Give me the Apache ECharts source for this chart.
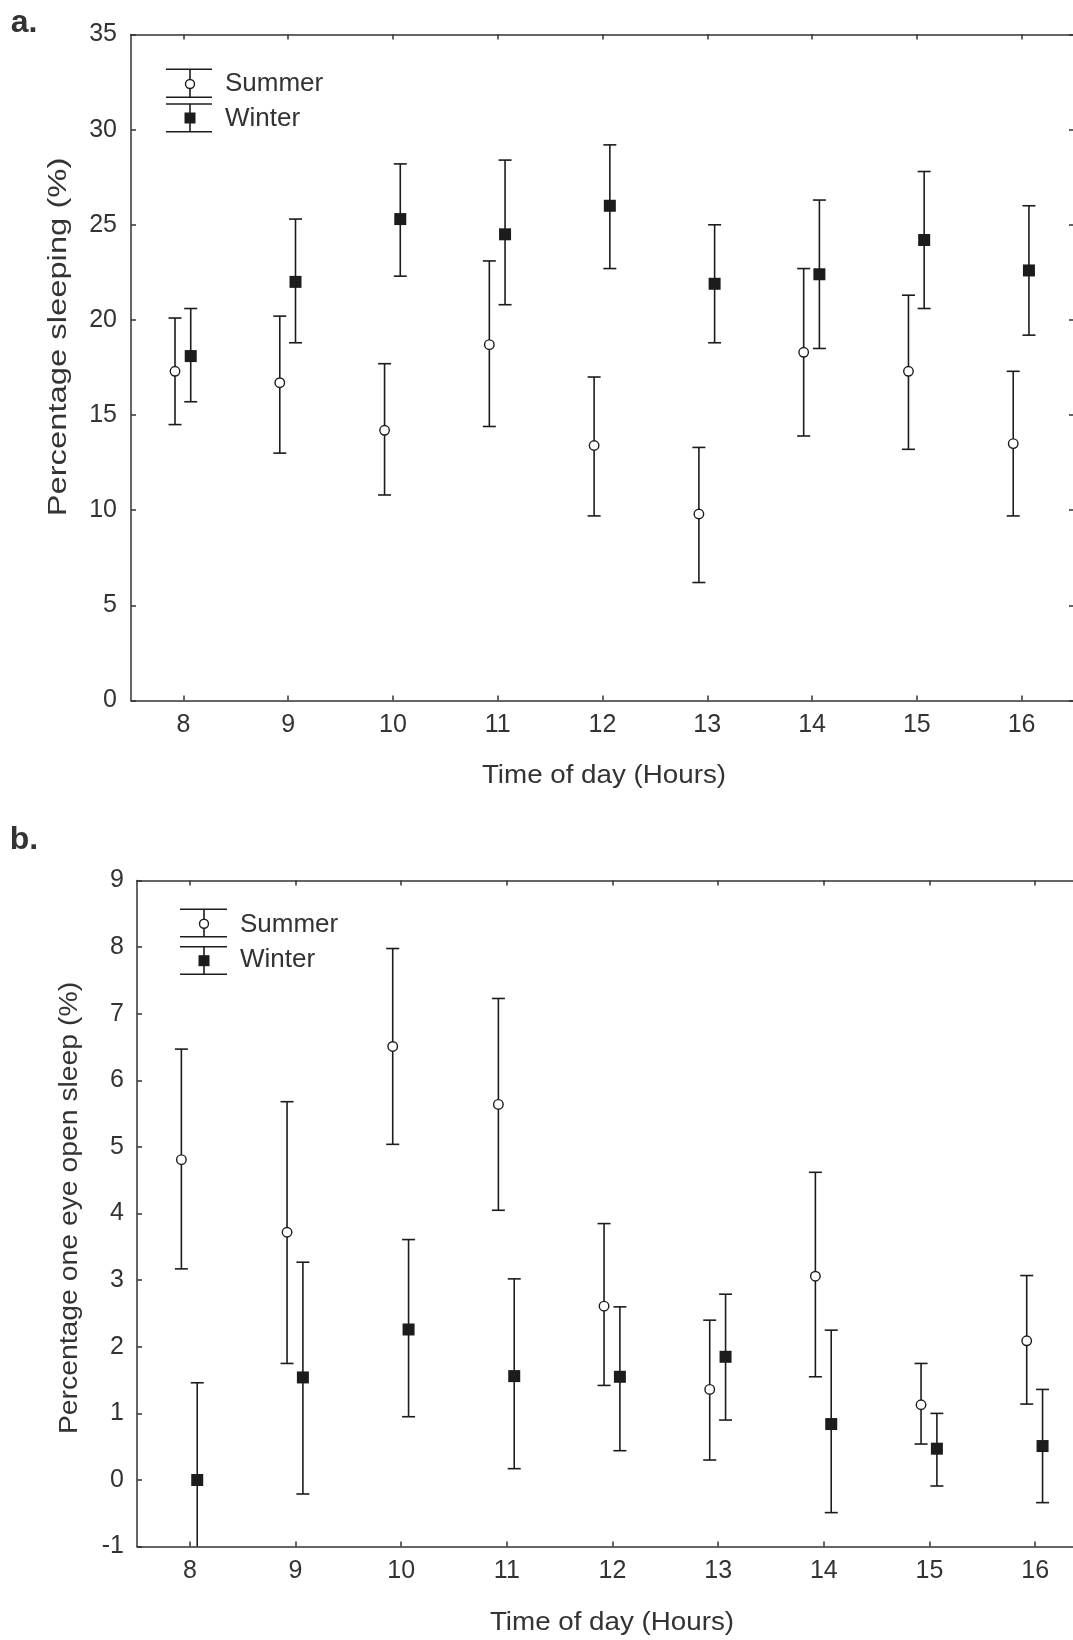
<!DOCTYPE html>
<html>
<head>
<meta charset="utf-8">
<script src="https://cdn.jsdelivr.net/npm/echarts@6/dist/echarts.min.js"></script>
<style>
  html, body { margin: 0; padding: 0; background: #fff; }
  #c { width: 1073px; height: 1640px; }
</style>
</head>
<body>
<div id="c"></div>
<script>
// ---------- data ----------
const hours = [8, 9, 10, 11, 12, 13, 14, 15, 16];

// Panel a: Percentage sleeping (%)
const sleepSummerMean = [17.3, 16.7, 14.2, 18.7, 13.4, 9.8, 18.3, 17.3, 13.5];
const sleepSummerHigh = [20.1, 20.2, 17.7, 23.1, 17.0, 13.3, 22.7, 21.3, 17.3];
const sleepSummerLow  = [14.5, 13.0, 10.8, 14.4, 9.7, 6.2, 13.9, 13.2, 9.7];
const sleepWinterMean = [18.1, 22.0, 25.3, 24.5, 26.0, 21.9, 22.4, 24.2, 22.6];
const sleepWinterHigh = [20.6, 25.3, 28.2, 28.4, 29.2, 25.0, 26.3, 27.8, 26.0];
const sleepWinterLow  = [15.7, 18.8, 22.3, 20.8, 22.7, 18.8, 18.5, 20.6, 19.2];

// Panel b: Percentage one eye open sleep (%)
const oeoSummerMean = [4.81, 3.72, 6.51, 5.64, 2.61, 1.36, 3.06, 1.13, 2.09];
const oeoSummerHigh = [6.47, 5.68, 7.98, 7.23, 3.85, 2.40, 4.62, 1.75, 3.07];
const oeoSummerLow  = [3.17, 1.75, 5.04, 4.05, 1.42, 0.30, 1.55, 0.54, 1.14];
const oeoWinterMean = [0.00, 1.54, 2.26, 1.56, 1.55, 1.85, 0.84, 0.47, 0.51];
const oeoWinterHigh = [1.46, 3.27, 3.61, 3.02, 2.60, 2.79, 2.25, 1.00, 1.36];
const oeoWinterLow  = [-1.46, -0.21, 0.95, 0.17, 0.44, 0.90, -0.49, -0.09, -0.34];

const yTicksA = [0, 35, 5];   // min, max, interval
const yTicksB = [-1, 9, 1];

const seriesNames = ['Summer', 'Winter'];
const xTitle = 'Time of day (Hours)';
const yTitleA = 'Percentage sleeping (%)';
const yTitleB = 'Percentage one eye open sleep (%)';

// ---------- style ----------
const FONT = '"Liberation Sans", Arial, Helvetica, sans-serif';
const INK = '#1c1c1c';
const AXIS = '#333333';
const TXT = '#333333';
const SUMMER_DX = -0.08, WINTER_DX = 0.07;

const chart = echarts.init(document.getElementById('c'), null, { renderer: 'canvas', width: 1073, height: 1640 });

function xAxes(gi) {
  const base = {
    type: 'value', gridIndex: gi, min: 7.5, max: 16.5,
    axisLine: { show: true, onZero: false, lineStyle: { color: AXIS, width: 1.5 } },
    axisTick: { show: true, inside: true, length: 5, customValues: hours, lineStyle: { color: AXIS, width: 1.5 } },
    splitLine: { show: false }
  };
  return [
    Object.assign({}, base, { position: 'bottom',
      axisLabel: { customValues: hours, margin: 12, fontSize: 25, fontFamily: FONT, color: TXT } }),
    Object.assign({}, base, { position: 'top', axisLabel: { show: false } })
  ];
}
function yAxes(gi, t, margin) {
  const base = {
    type: 'value', gridIndex: gi, min: t[0], max: t[1], interval: t[2],
    axisLine: { show: true, onZero: false, lineStyle: { color: AXIS, width: 1.5 } },
    axisTick: { show: true, inside: true, length: 5, lineStyle: { color: AXIS, width: 1.5 } },
    splitLine: { show: false }
  };
  return [
    Object.assign({}, base, { position: 'left',
      axisLabel: { margin: margin, fontSize: 25, fontFamily: FONT, color: TXT } }),
    Object.assign({}, base, { position: 'right', axisLabel: { show: false } })
  ];
}

function errorBars(name, axisIdx, dx, lows, highs) {
  return {
    type: 'custom', name: name, xAxisIndex: axisIdx, yAxisIndex: axisIdx, silent: true, z: 2,
    data: hours.map((h, i) => [h + dx, lows[i], highs[i]]),
    renderItem: function (params, api) {
      const x = api.value(0), lo = api.value(1), hi = api.value(2);
      const pLo = api.coord([x, lo]), pHi = api.coord([x, hi]);
      const cs = params.coordSys;
      const yMin = cs.y, yMax = cs.y + cs.height;
      const half = 6.5;
      const st = { stroke: INK, lineWidth: 1.6 };
      const top = Math.max(pHi[1], yMin), bot = Math.min(pLo[1], yMax);
      const ch = [{ type: 'line', shape: { x1: pHi[0], y1: top, x2: pLo[0], y2: bot }, style: st }];
      if (pHi[1] >= yMin) ch.push({ type: 'line', shape: { x1: pHi[0] - half, y1: pHi[1], x2: pHi[0] + half, y2: pHi[1] }, style: st });
      if (pLo[1] <= yMax) ch.push({ type: 'line', shape: { x1: pLo[0] - half, y1: pLo[1], x2: pLo[0] + half, y2: pLo[1] }, style: st });
      return { type: 'group', children: ch };
    }
  };
}
function points(name, axisIdx, dx, means, isSummer) {
  return {
    type: 'scatter', name: name, xAxisIndex: axisIdx, yAxisIndex: axisIdx, z: 5, silent: true,
    data: hours.map((h, i) => [h + dx, means[i]]),
    symbol: isSummer ? 'circle' : 'rect',
    symbolSize: isSummer ? 9.5 : 12,
    itemStyle: isSummer ? { color: '#ffffff', borderColor: INK, borderWidth: 1.4, opacity: 1 }
                        : { color: INK, opacity: 1 }
  };
}

// legend drawn as graphics (error bar glyph + marker + label)
function legendGraphics(cx, x0, x1, caps, yCircle, ySquare, textX, yTxt1, yTxt2) {
  const st = { stroke: INK, lineWidth: 1.6 };
  const L = (xa, ya, xb, yb) => ({ type: 'line', shape: { x1: xa, y1: ya, x2: xb, y2: yb }, style: st });
  return [
    L(x0, caps[0], x1, caps[0]), L(cx, caps[0], cx, caps[1]), L(x0, caps[1], x1, caps[1]),
    { type: 'circle', shape: { cx: cx, cy: yCircle, r: 4.5 }, style: { fill: '#fff', stroke: INK, lineWidth: 1.4 }, z: 10 },
    L(x0, caps[2], x1, caps[2]), L(cx, caps[2], cx, caps[3]), L(x0, caps[3], x1, caps[3]),
    { type: 'rect', shape: { x: cx - 5.5, y: ySquare - 5.5, width: 11, height: 11 }, style: { fill: INK }, z: 10 },
    { type: 'text', x: textX, y: yTxt1, style: { text: seriesNames[0], font: '26px ' + FONT, fill: TXT, align: 'left', verticalAlign: 'middle', textAlign: 'left', textVerticalAlign: 'middle' } },
    { type: 'text', x: textX, y: yTxt2, style: { text: seriesNames[1], font: '26px ' + FONT, fill: TXT, align: 'left', verticalAlign: 'middle', textAlign: 'left', textVerticalAlign: 'middle' } }
  ];
}
function label(text, x, y, size, rot, sx, weight) {
  return {
    type: 'text', x: x, y: y, rotation: rot || 0, scaleX: sx || 1, scaleY: 1,
    style: { text: text, font: (weight || 'normal') + ' ' + size + 'px ' + FONT, fill: TXT,
      align: 'center', verticalAlign: 'middle', textAlign: 'center', textVerticalAlign: 'middle' }
  };
}

const xa = xAxes(0), xb = xAxes(1);
const ya = yAxes(0, yTicksA, 14), yb = yAxes(1, yTicksB, 13);

const option = {
  backgroundColor: '#ffffff',
  animation: false,
  grid: [
    { left: 131, top: 34.5, width: 943, height: 666, containLabel: false, outerBoundsMode: 'none' },
    { left: 137, top: 880.6, width: 951, height: 666, containLabel: false, outerBoundsMode: 'none' }
  ],
  // axis order: 0 = a-bottom, 1 = b-bottom, 2 = a-top, 3 = b-top
  xAxis: [xa[0], xb[0], xa[1], xb[1]],
  yAxis: [ya[0], yb[0], ya[1], yb[1]],
  series: [
    errorBars(seriesNames[0], 0, SUMMER_DX, sleepSummerLow, sleepSummerHigh),
    errorBars(seriesNames[1], 0, WINTER_DX, sleepWinterLow, sleepWinterHigh),
    points(seriesNames[0], 0, SUMMER_DX, sleepSummerMean, true),
    points(seriesNames[1], 0, WINTER_DX, sleepWinterMean, false),
    errorBars(seriesNames[0], 1, SUMMER_DX, oeoSummerLow, oeoSummerHigh),
    errorBars(seriesNames[1], 1, WINTER_DX, oeoWinterLow, oeoWinterHigh),
    points(seriesNames[0], 1, SUMMER_DX, oeoSummerMean, true),
    points(seriesNames[1], 1, WINTER_DX, oeoWinterMean, false)
  ],
  graphic: [].concat(
    legendGraphics(190, 166, 212, [69.3, 97.3, 104, 131.7], 84, 118, 225, 84, 119),
    legendGraphics(204, 180, 227, [909.3, 936.7, 946.7, 974.3], 923.7, 960.7, 240, 925, 960),
    [
      label('a.', 24, 23, 32, 0, 1, 'bold'),
      label('b.', 24, 840, 32, 0, 1, 'bold'),
      label(yTitleA, 59, 337, 26, Math.PI / 2, 1.26),
      label(yTitleB, 70, 1208, 26, Math.PI / 2, 1.09),
      label(xTitle, 604, 776, 25, 0, 1.11),
      label(xTitle, 612, 1623, 25, 0, 1.11)
    ]
  )
};
chart.setOption(option);
</script>
</body>
</html>
